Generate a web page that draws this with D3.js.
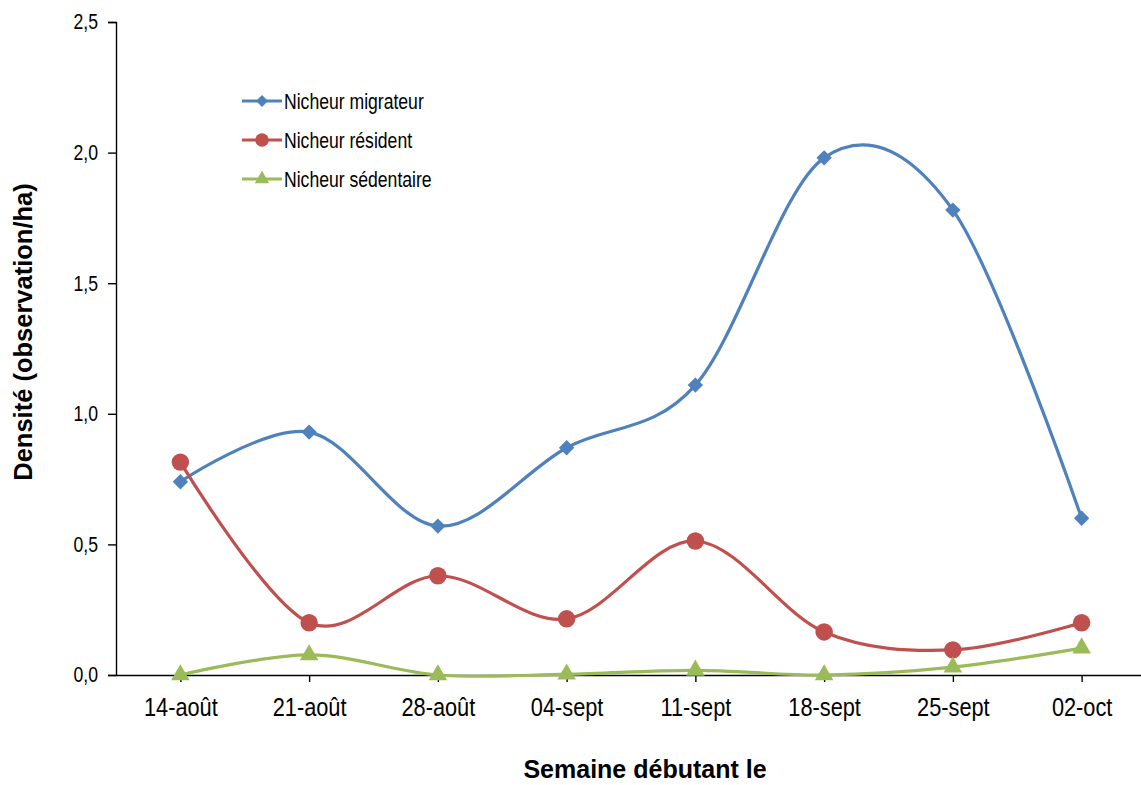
<!DOCTYPE html>
<html>
<head>
<meta charset="utf-8">
<script src="https://cdn.jsdelivr.net/npm/d3@7"></script>
<style>
  html, body { margin: 0; padding: 0; background: #fff; }
  svg { display: block; }
  text { font-family: "Liberation Sans", Arial, sans-serif; fill: #000; }
  .title { font-weight: bold; }
</style>
</head>
<body>
<svg id="chart" width="1141" height="785"></svg>
<script>
// Weekly densities (observations per hectare) by nesting status
const weeks = ["14-août", "21-août", "28-août", "04-sept", "11-sept", "18-sept", "25-sept", "02-oct"];
const migrateur = [0.74, 0.93, 0.57, 0.87, 1.11, 1.98, 1.78, 0.60];
const resident = [0.815, 0.20, 0.38, 0.215, 0.513, 0.165, 0.096, 0.20];
const sedentaire = [0.0, 0.077, 0.0, 0.003, 0.018, 0.0, 0.03, 0.103];
const yTicks = [0, 0.5, 1.0, 1.5, 2.0, 2.5];

const seriesList = [
  { name: "Nicheur migrateur", values: migrateur, color: "#4F81BD", symbol: d3.symbolDiamond2, size: 150 },
  { name: "Nicheur résident", values: resident, color: "#C0504D", symbol: d3.symbolCircle, size: 240 },
  { name: "Nicheur sédentaire", values: sedentaire, color: "#9BBB59", symbol: d3.symbolTriangle, size: 150 }
];

const svg = d3.select("#chart");
const plotLeft = 116, plotRight = 1141 + 5, plotTop = 22, plotBottom = 675;

const x = d3.scalePoint().domain(weeks).range([plotLeft, plotRight]).padding(0.5);
const y = d3.scaleLinear().domain([0, 2.5]).range([plotBottom, plotTop]);

const fmt = v => d3.format(".1f")(v).replace(".", ",");

// Condense text horizontally around its anchor point
function squeeze(sel, k) {
  sel.each(function () {
    const t = d3.select(this);
    const tx = +t.attr("x") || 0;
    t.attr("transform", `translate(${tx},0) scale(${k},1) translate(${-tx},0)`);
  });
}

// Y axis
const yAxis = svg.append("g")
  .attr("transform", `translate(${plotLeft},0)`)
  .call(d3.axisLeft(y).tickValues(yTicks).tickFormat(fmt).tickSize(8).tickPadding(10));
yAxis.select(".domain").attr("stroke", "#000").attr("stroke-width", 1.4);
yAxis.selectAll(".tick line").attr("stroke", "#000").attr("stroke-width", 1.4);
yAxis.selectAll("text").style("font-size", "21.5px").call(squeeze, 0.82);

// X axis
const xAxis = svg.append("g")
  .attr("transform", `translate(0,${plotBottom})`)
  .call(d3.axisBottom(x).tickSize(7).tickSizeOuter(0).tickPadding(16));
xAxis.select(".domain").attr("stroke", "#000").attr("stroke-width", 1.4);
xAxis.selectAll(".tick line").attr("stroke", "#000").attr("stroke-width", 1.4);
xAxis.selectAll("text").style("font-size", "25px").call(squeeze, 0.87);

// Axis titles
svg.append("text").attr("class", "title")
  .attr("x", 645).attr("y", 778)
  .attr("text-anchor", "middle")
  .style("font-size", "25px")
  .text("Semaine débutant le");

svg.append("text").attr("class", "title")
  .attr("transform", "translate(32,332) rotate(-90)")
  .attr("text-anchor", "middle")
  .style("font-size", "25.5px")
  .text("Densité (observation/ha)");

// Smoothed series lines and markers
const line = d3.line()
  .x((d, i) => x(weeks[i]))
  .y(d => y(d))
  .curve(d3.curveCardinal.tension(0));

seriesList.forEach(s => {
  svg.append("path")
    .attr("d", line(s.values))
    .attr("fill", "none")
    .attr("stroke", s.color)
    .attr("stroke-width", 3.2);
});

seriesList.forEach(s => {
  svg.append("g").selectAll("path")
    .data(s.values)
    .join("path")
    .attr("transform", (d, i) => `translate(${x(weeks[i])},${y(d)})`)
    .attr("d", d3.symbol().type(s.symbol).size(s.size))
    .attr("fill", s.color);
});

// Legend
const legend = svg.append("g").attr("transform", "translate(242,101)");
seriesList.forEach((s, i) => {
  const g = legend.append("g").attr("transform", `translate(0,${i * 39})`);
  g.append("line").attr("x1", 0).attr("x2", 40).attr("y1", 0).attr("y2", 0)
    .attr("stroke", s.color).attr("stroke-width", 3.2);
  g.append("path")
    .attr("transform", `translate(20,0)`)
    .attr("d", d3.symbol().type(s.symbol).size(s.size * 0.6))
    .attr("fill", s.color);
  g.append("text").attr("x", 42).attr("y", 8)
    .style("font-size", "22px")
    .text(s.name)
    .call(squeeze, 0.8);
});
</script>
</body>
</html>
